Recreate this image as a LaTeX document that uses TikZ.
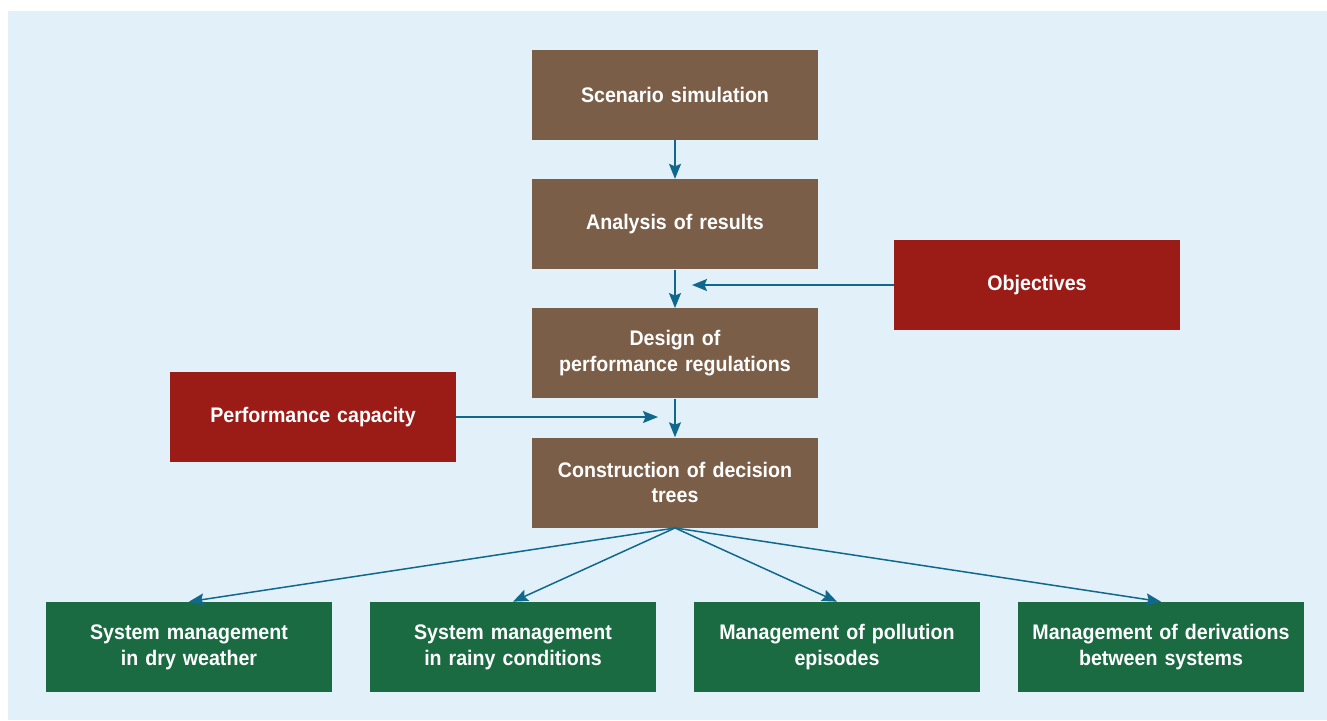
\documentclass[tikz,border=0pt]{standalone}
\usepackage{fontspec}
\setmainfont{Liberation Sans}[FakeStretch=0.93]
\usetikzlibrary{arrows.meta, positioning}
\definecolor{bgblue}{RGB}{226,240,250}
\definecolor{brownbox}{RGB}{123,94,72}
\definecolor{redbox}{RGB}{155,27,23}
\definecolor{greenbox}{RGB}{27,107,66}
\definecolor{arrowblue}{RGB}{16,104,140}

\begin{document}
\begin{tikzpicture}[
        box/.style={rectangle, text=white, font=\fontsize{12}{14.6}\selectfont\bfseries,
                    minimum width=5.72cm, minimum height=1.8cm, inner sep=0pt,
                    text width=5.4cm, align=center},
        stepbox/.style={box, fill=brownbox},
        inbox/.style={box, fill=redbox},
        outbox/.style={box, fill=greenbox},
        arr/.style={-{Stealth[length=3mm,width=2.4mm,inset=0.5mm]}, line width=0.85pt, arrowblue},
        node distance=0.77cm]
      \useasboundingbox (0,0) rectangle (26.54,-14.4);
      \fill[bgblue] (0.16,-0.22) rectangle (26.54,-14.4);
      % main chain
      \node[stepbox] (scen) at (13.5,-1.9) {Scenario simulation};
      \node[stepbox, below=of scen] (anal) {Analysis of results};
      \node[stepbox, below=of anal] (design) {Design of\\performance regulations};
      \node[stepbox, below=of design] (constr) {Construction of decision\\trees};
      % inputs
      \node[inbox] (obj) at (20.74,-5.7) {Objectives};
      \node[inbox] (perf) at (6.26,-8.34) {Performance capacity};
      \coordinate (objend) at (13.84,-5.7);
      \coordinate (perfend) at (13.16,-8.34);
      % outputs
      \node[outbox] (dry) at (3.78,-12.94) {System management\\in dry weather};
      \node[outbox] (rainy) at (10.26,-12.94) {System management\\in rainy conditions};
      \node[outbox] (pollu) at (16.74,-12.94) {Management of pollution\\episodes};
      \node[outbox] (deriv) at (23.22,-12.94) {Management of derivations\\between systems};
      \draw[arr] (scen) -- (anal);
      \draw[arr] (anal) -- (design);
      \draw[arr] (design) -- (constr);
      \draw[arr] (obj) -- (objend);
      \draw[arr] (perf) -- (perfend);
      \foreach \t in {dry, rainy, pollu, deriv}
        \draw[arr] (constr.south) -- (\t.north);
    \end{tikzpicture}
\end{document}
